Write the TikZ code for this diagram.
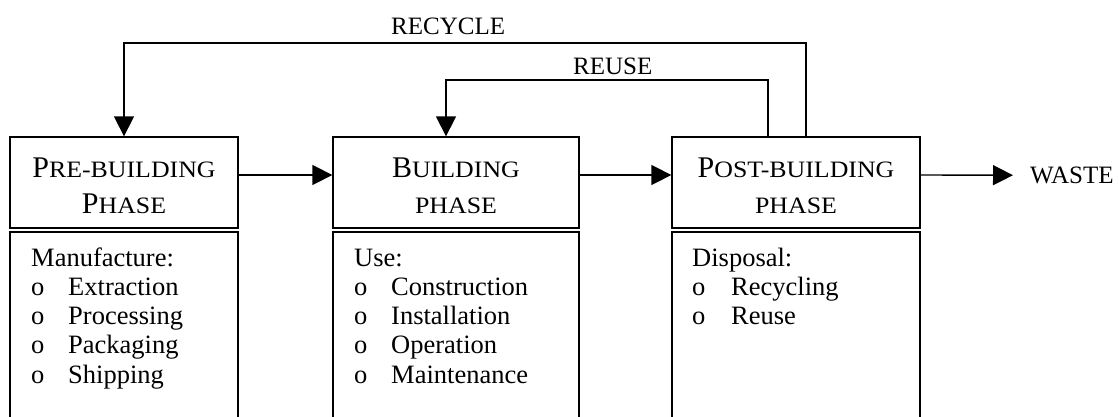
\documentclass[tikz,border=0pt]{standalone}
\usepackage{fontspec}
\setmainfont{Liberation Serif}
\newfontfamily\scfont[FakeStretch=1.1]{Liberation Serif}
\usetikzlibrary{arrows.meta}
\newcommand\Bg[1]{{\fontsize{30}{36}\selectfont #1}}
\newcommand\Sm[1]{{\scfont\fontsize{23.5}{36}\selectfont #1}}
\tikzset{
  headbox/.style={draw, line width=1.3pt, minimum height=91pt, inner sep=0pt},
  headtext/.style={inner sep=0pt, align=center, font=\fontsize{30}{36}\selectfont},
  lowbox/.style={draw, line width=1.6pt, minimum height=200pt, inner sep=0pt},
  listtext/.style={anchor=base west, inner sep=0pt, font=\fontsize{26.5}{29.3}\selectfont},
  lbl/.style={anchor=base west, inner sep=0pt, font=\fontsize{25}{30}\selectfont},
  conn/.style={line width=1.4pt},
  arr/.style={conn, -{Triangle[length=20pt,width=20pt]}}
}
\begin{document}
\begin{tikzpicture}[x=1pt,y=-1pt]
\useasboundingbox (0,0) rectangle (1119,417);
% header boxes
\node[headbox, minimum width=228pt] (pre) at (124,182.5) {};
\node[headbox, minimum width=246pt] (bld) at (456,182.5) {};
\node[headbox, minimum width=248pt] (post) at (796,182.5) {};
\node[headtext] (pret) at ([yshift=-3pt]pre.center) {\Bg{P}\Sm{RE-BUILDING}\\\Bg{P}\Sm{HASE}};
\node[headtext] (bldt) at ([yshift=-3pt]bld.center) {\Bg{B}\Sm{UILDING}\\\Sm{PHASE}};
\node[headtext] (postt) at ([yshift=-3pt]post.center) {\Bg{P}\Sm{OST-BUILDING}\\\Sm{PHASE}};
% lower boxes
\node[lowbox, minimum width=228pt] (prel) at (124,332) {};
\node[lowbox, minimum width=246pt] (bldl) at (456,332) {};
\node[lowbox, minimum width=248pt] (postl) at (796,332) {};
% lists
\node[listtext] (l1) at (31,266) {\begin{tabular}[t]{@{}p{37pt}@{}l@{}}
\multicolumn{2}{@{}l@{}}{Manufacture:}\\
o & Extraction\\ o & Processing\\ o & Packaging\\ o & Shipping\end{tabular}};
\node[listtext] (l2) at (354,266) {\begin{tabular}[t]{@{}p{37pt}@{}l@{}}
\multicolumn{2}{@{}l@{}}{Use:}\\
o & Construction\\ o & Installation\\ o & Operation\\ o & Maintenance\end{tabular}};
\node[listtext] (l3) at (692,266) {\begin{tabular}[t]{@{}p{39pt}@{}l@{}}
\multicolumn{2}{@{}l@{}}{Disposal:}\\
o & Recycling\\ o & Reuse\end{tabular}};
% labels
\node[lbl] (waste) at (1030,183.3) {WASTE};
\node[lbl] (recl) at (391,35) {RECYCLE};
\node[lbl] (reul) at (573,75) {REUSE};
% coordinates for loops
\coordinate (rtop) at (124,43);
\coordinate (utop) at (446,80);
% connectors
\draw[arr] ([yshift=7.5pt]pre.east) -- ([yshift=7.5pt]bld.west);
\draw[arr] ([yshift=7.5pt]bld.east) -- ([yshift=7.5pt]post.west);
\draw[arr] ([yshift=7.5pt]post.east) -- ([xshift=-17pt]waste.west);
\draw[arr] ([xshift=10pt]post.north) |- (rtop) -- (pre.north);
\draw[arr] ([xshift=-28pt]post.north) |- (utop) -- ([xshift=-10pt]bld.north);
\end{tikzpicture}
\end{document}
